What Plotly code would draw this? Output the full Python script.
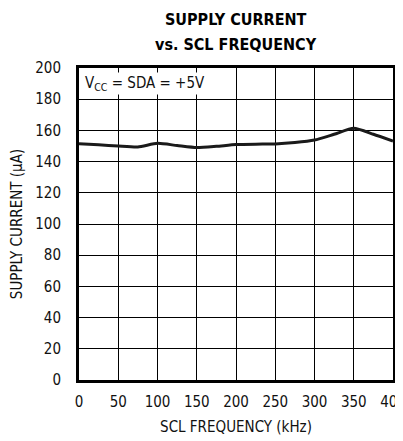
import plotly.graph_objects as go

freq_khz = [0, 25, 50, 75, 100, 125, 150, 175, 200, 225, 250, 275, 300, 325, 350, 375, 400]
supply_ua = [151.5, 150.8, 150.0, 149.4, 151.7, 150.3, 149.0, 149.8, 150.9, 151.2, 151.3, 152.2, 153.8, 157.5, 161.3, 157.5, 153.2]

x_ticks = [0, 50, 100, 150, 200, 250, 300, 350, 400]
y_ticks = [0, 20, 40, 60, 80, 100, 120, 140, 160, 180, 200]

FONT = "DejaVu Sans Condensed, Liberation Sans Narrow, sans-serif"

# page body has an ~8px margin, so the figure is sized to fill the rest of the window
W, H = 395, 433
L, R, T, B = 71, 10, 60, 61
pw = W - L - R
ph = H - T - B

fig = go.Figure()
fig.add_trace(go.Scatter(x=freq_khz, y=supply_ua, mode="lines",
                         line=dict(color="#1a1a1a", width=3, shape="spline", smoothing=0.6),
                         showlegend=False, hoverinfo="skip"))

fig.update_layout(
    width=W, height=H,
    margin=dict(l=L, r=R, t=T, b=B, autoexpand=False),
    paper_bgcolor="white", plot_bgcolor="white",
    font=dict(family=FONT, size=15, color="#111"),
    xaxis=dict(range=[0, 400], tickvals=x_ticks, ticktext=[str(v) for v in x_ticks],
               showgrid=True, gridcolor="#000", gridwidth=1,
               showline=True, linecolor="#000", linewidth=3, mirror=True,
               ticks="", zeroline=False, automargin=False,
               ticklabeloverflow="allow", ticklabelstandoff=6,
               title=dict(text="SCL FREQUENCY (kHz)", font=dict(size=15), standoff=12),
               tickfont=dict(size=15)),
    yaxis=dict(range=[0, 200], tickvals=y_ticks, ticktext=[str(v) for v in y_ticks],
               showgrid=True, gridcolor="#000", gridwidth=1,
               showline=True, linecolor="#000", linewidth=3, mirror=True,
               ticks="", zeroline=False, automargin=False,
               ticklabeloverflow="allow", ticklabelstandoff=12,
               title=dict(text="SUPPLY CURRENT (µA)", font=dict(size=15), standoff=20),
               tickfont=dict(size=15)),
)

cx = (228 - L) / pw
fig.add_annotation(text="<b>SUPPLY CURRENT</b>", x=cx, y=1 + (T - 11) / ph,
                   xref="paper", yref="paper", xanchor="center", yanchor="middle",
                   showarrow=False, font=dict(family=FONT, size=16, color="#000"))
fig.add_annotation(text="<b>vs. SCL FREQUENCY</b>", x=cx, y=1 + (T - 36) / ph,
                   xref="paper", yref="paper", xanchor="center", yanchor="middle",
                   showarrow=False, font=dict(family=FONT, size=16, color="#000"))
fig.add_annotation(text="V<sub>CC</sub> = SDA = +5V", x=5, y=190, xref="x", yref="y",
                   xanchor="left", yanchor="middle", showarrow=False,
                   font=dict(family=FONT, size=15, color="#111"), bgcolor="white")
fig.add_annotation(text="DS3902 toc02", x=1.0, y=1.0, xref="paper", yref="paper",
                   xanchor="left", yanchor="top", xshift=-1, showarrow=False, textangle=90,
                   font=dict(family=FONT, size=7, color="#333"))

fig.write_html("out.html")
